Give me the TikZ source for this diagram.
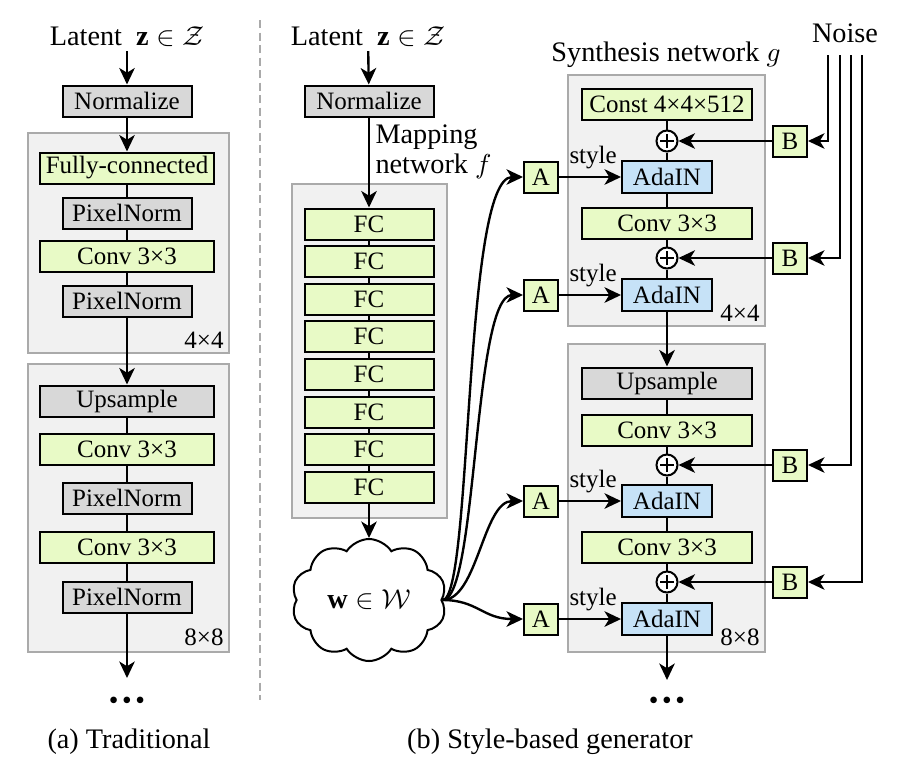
\documentclass[tikz,border=0pt]{standalone}
\usepackage{amsmath}
\usepackage{fontspec}
\setmainfont{Liberation Serif}
\usetikzlibrary{arrows.meta,shapes.symbols,calc}
\definecolor{boxgreen}{RGB}{232,250,198}
\definecolor{boxgray}{RGB}{216,216,216}
\definecolor{boxblue}{RGB}{198,226,247}
\definecolor{grpfill}{RGB}{241,241,241}
\definecolor{grpline}{RGB}{170,170,170}
\newcommand{\tridots}{{\fontsize{11}{12}\selectfont\makebox[5.3pt]{\textbullet}\makebox[5.3pt]{\textbullet}\makebox[5.3pt]{\textbullet}}}
\begin{document}
\begin{tikzpicture}[x=0.4pt,y=-0.4pt,
  every node/.style={font=\fontsize{10}{12}\selectfont, inner sep=0pt},
  blk/.style={draw, line width=0.8pt, minimum height=12.4pt},
  wide/.style={blk, minimum width=69.6pt},
  narrow/.style={blk, minimum width=51.6pt},
  gbox/.style={fill=boxgreen},
  graybox/.style={fill=boxgray},
  bluebox/.style={blk, fill=boxblue, minimum width=36pt, minimum height=12.8pt},
  sq/.style={blk, fill=boxgreen, minimum width=13.6pt, minimum height=12.4pt},
  grp/.style={draw=grpline, fill=grpfill, line width=0.6pt},
  arr/.style={-{Stealth[length=6.6pt,width=6.2pt,inset=1.9pt]}, line width=0.95pt},
  ln/.style={line width=0.95pt},
  lbl/.style={font=\fontsize{11.3}{13.5}\selectfont},
  plus/.style={circle, draw, fill=white, line width=0.8pt, minimum size=8.4pt,
    path picture={\draw[line width=0.7pt]
      ([xshift=-2.8pt]path picture bounding box.center) -- ([xshift=2.8pt]path picture bounding box.center)
      ([yshift=-2.8pt]path picture bounding box.center) -- ([yshift=2.8pt]path picture bounding box.center);}},
  sizelbl/.style={font=\fontsize{10}{12}\selectfont}
]
\useasboundingbox (0,0) rectangle (897,774);

% ---------------- (a) Traditional ----------------
\draw[grp] (28,133) rectangle (229,353);
\draw[grp] (28,364) rectangle (229,652);
\node[lbl] (latA) at (127,37) {Latent~~$\mathbf{z}\in\mathcal{Z}$};
\node[narrow,graybox] (normA) at (127,101) {Normalize};
\node[wide,gbox] (fcA) at (127,168) {Fully-connected};
\node[narrow,graybox] (pn1A) at (127,213) {PixelNorm};
\node[wide,gbox] (conv1A) at (127,256.5) {Conv 3×3};
\node[narrow,graybox] (pn2A) at (127,301) {PixelNorm};
\node[sizelbl] (s4A) at (204,340) {4×4};
\node[wide,graybox] (upA) at (127,401) {Upsample};
\node[wide,gbox] (conv2A) at (127,449.5) {Conv 3×3};
\node[narrow,graybox] (pn3A) at (127,498) {PixelNorm};
\node[wide,gbox] (conv3A) at (127,547) {Conv 3×3};
\node[narrow,graybox] (pn4A) at (127,597) {PixelNorm};
\node[sizelbl] (s8A) at (204,637) {8×8};
\coordinate (endA) at (127,678);
\node (dotsA) at (127,703) {\tridots};
\node[lbl] (capA) at (129,742) {(a) Traditional};

\draw[arr, shorten <=1.5pt] (latA) -- (normA);
\draw[arr] (normA) -- (fcA);
\draw[ln] (fcA) -- (pn1A) -- (conv1A) -- (pn2A);
\draw[arr] (pn2A) -- (upA);
\draw[ln] (upA) -- (conv2A) -- (pn3A) -- (conv3A) -- (pn4A);
\draw[arr] (pn4A) -- (endA);

% separator
\coordinate (sepT) at (260,20);
\coordinate (sepB) at (260,700);
\draw[grpline, line width=0.5pt, dash pattern=on 3.2pt off 1.8pt] (sepT) -- (sepB);

% ---------------- (b) mapping network ----------------
\draw[grp] (292,184) rectangle (447,518);
\node[lbl] (latB) at (368,37) {Latent~~$\mathbf{z}\in\mathcal{Z}$};
\node[narrow,graybox] (normB) at (369,101) {Normalize};
\node[lbl, anchor=west] (map1) at (375,137) {Mapping};
\node[lbl, anchor=west] (map2) at (375,166) {network $f$};
\foreach \i in {1,...,8} {
  \node[narrow,gbox] (fc\i) at (369,{224+37.6*(\i-1)}) {FC};
}
\node[cloud, draw, line width=0.8pt, fill=white, cloud puffs=10, cloud puff arc=115,
      aspect=1.27, minimum width=62pt, minimum height=48.8pt, lbl] (w) at (369,600)
      {$\mathbf{w}\in\mathcal{W}$};
\node[lbl] (capB) at (550,742) {(b) Style-based generator};

\draw[arr, shorten <=1.5pt] (latB) -- (normB);
\draw[arr] (normB) -- (fc1);
\draw[ln] (fc1) -- (fc2) -- (fc3) -- (fc4) -- (fc5) -- (fc6) -- (fc7) -- (fc8);
\draw[arr] (fc8) -- (w);

% ---------------- synthesis network ----------------
\draw[grp] (568,75) rectangle (765,326);
\draw[grp] (568,344) rectangle (765,652);
\node[lbl] (synth) at (666,55) {Synthesis network $g$};
\node[lbl] (noise) at (845,33) {Noise};

\node[wide,gbox,minimum width=68pt] (const) at (667,104.5) {Const 4×4×512};
\node[plus] (p1) at (667,141) {};
\node[bluebox] (ad1) at (667,177) {AdaIN};
\node[wide,gbox,minimum width=68pt] (cv1) at (667,223) {Conv 3×3};
\node[plus] (p2) at (667,258) {};
\node[bluebox] (ad2) at (667,295) {AdaIN};
\node[sizelbl] (s4B) at (740,313) {4×4};

\node[wide,graybox,minimum width=68pt] (upB) at (667,383) {Upsample};
\node[wide,gbox,minimum width=68pt] (cv2) at (667,430) {Conv 3×3};
\node[plus] (p3) at (667,465) {};
\node[bluebox] (ad3) at (667,501) {AdaIN};
\node[wide,gbox,minimum width=68pt] (cv3) at (667,547) {Conv 3×3};
\node[plus] (p4) at (667,582) {};
\node[bluebox] (ad4) at (667,619) {AdaIN};
\node[sizelbl] (s8B) at (740,637) {8×8};
\coordinate (endB) at (667,680);
\node (dotsB) at (667,703) {\tridots};

\draw[ln] (const) -- (p1) -- (ad1) -- (cv1) -- (p2) -- (ad2);
\draw[arr] (ad2) -- (upB);
\draw[ln] (upB) -- (cv2) -- (p3) -- (ad3) -- (cv3) -- (p4) -- (ad4);
\draw[arr] (ad4) -- (endB);

% A boxes and styles
\node[sq] (A1) at (541,177) {A};
\node[sq] (A2) at (541,295) {A};
\node[sq] (A3) at (541,501) {A};
\node[sq] (A4) at (541,619) {A};
\draw[arr] (A1) -- node[pos=0.55, above=2.6pt] (st1) {style} (ad1);
\draw[arr] (A2) -- node[pos=0.55, above=2.6pt] (st2) {style} (ad2);
\draw[arr] (A3) -- node[pos=0.55, above=2.6pt] (st3) {style} (ad3);
\draw[arr] (A4) -- node[pos=0.55, above=2.6pt] (st4) {style} (ad4);

% w to A
\draw[arr] (w.east) .. controls +(30,0) and +(-60,0) .. (A1.west);
\draw[arr] (w.east) .. controls +(35,0) and +(-50,0) .. (A2.west);
\draw[arr] (w.east) .. controls +(35,0) and +(-40,0) .. (A3.west);
\draw[arr] (w.east) .. controls +(35,0) and +(-40,0) .. (A4.west);

% B boxes and noise
\node[sq] (B1) at (790,141) {B};
\node[sq] (B2) at (790,258) {B};
\node[sq] (B3) at (790,465) {B};
\node[sq] (B4) at (790,582) {B};
\coordinate (n1) at (828,55);
\coordinate (n2) at (840,55);
\coordinate (n3) at (851,55);
\coordinate (n4) at (862,55);
\draw[arr] (n1) |- (B1.east);
\draw[arr] (n2) |- (B2.east);
\draw[arr] (n3) |- (B3.east);
\draw[arr] (n4) |- (B4.east);
\draw[arr] (B1) -- (p1);
\draw[arr] (B2) -- (p2);
\draw[arr] (B3) -- (p3);
\draw[arr] (B4) -- (p4);
\end{tikzpicture}
\end{document}
